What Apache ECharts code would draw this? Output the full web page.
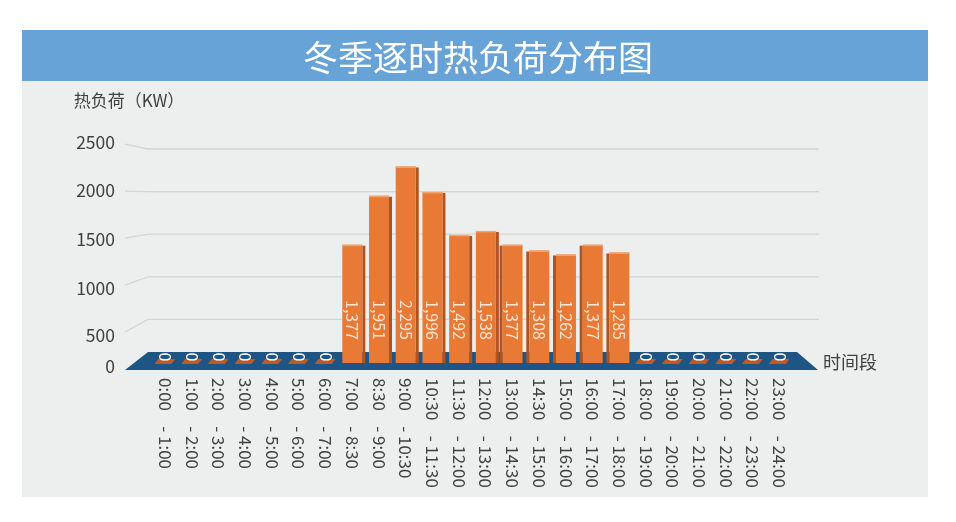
<!DOCTYPE html>
<html>
<head>
<meta charset="utf-8">
<title>冬季逐时热负荷分布图</title>
<script src="https://cdn.jsdelivr.net/npm/echarts@6/dist/echarts.min.js"></script>
<style>
  body { margin: 0; background: #fff; }
  #wrap { position: relative; width: 956px; height: 522px; }
  .panel { position: absolute; left: 22px; top: 30px; width: 906px; height: 467px; background: #edeeee; }
  .head { position: absolute; left: 22px; top: 30px; width: 906px; height: 51px; background: #67a3d7; }
  #ct1 { position: absolute; left: 0; top: 0; width: 956px; height: 522px; }
</style>
</head>
<body>
<div id="wrap">
  <div class="panel"></div>
  <div class="head"></div>
  <div id="ct1"></div>
</div>
<script>
// 时间段
var categories = ['0:00 - 1:00', '1:00 - 2:00', '2:00 - 3:00', '3:00 - 4:00', '4:00 - 5:00', '5:00 - 6:00',
    '6:00 - 7:00', '7:00 - 8:30', '8:30 - 9:00', '9:00 - 10:30', '10:30 - 11:30', '11:30 - 12:00',
    '12:00 - 13:00', '13:00 - 14:30', '14:30 - 15:00', '15:00 - 16:00', '16:00 - 17:00', '17:00 - 18:00',
    '18:00 - 19:00', '19:00 - 20:00', '20:00 - 21:00', '21:00 - 22:00', '22:00 - 23:00', '23:00 - 24:00'];
// 热负荷 (KW)
var loads = [0, 0, 0, 0, 0, 0, 0, 1377, 1951, 2295, 1996, 1492, 1538, 1377, 1308, 1262, 1377, 1285, 0, 0, 0, 0, 0, 0];
var yTicks = [0, 500, 1000, 1500, 2000, 2500];

// 立体效果用的样式
var labelShift = [4, 16, 12, 5, -1.5, -7];
var font = "'Noto Sans CJK SC', 'Noto Sans', sans-serif";

function fmt(v) {
    return String(v).replace(/\B(?=(\d{3})+(?!\d))/g, ',');
}

window.onload = function () {
    var myChart = echarts.init(document.getElementById('ct1'));

    var rich = {};
    labelShift.forEach(function (d, i) {
        rich['t' + i] = {
            fontSize: 17.5, color: '#404040', fontFamily: font,
            padding: d > 0 ? [2 * d, 0, 0, 0] : [0, 0, -2 * d, 0]
        };
    });

    var barData = loads.map(function (v, i) { return [i, v]; });

    // 背景墙网格线 + 底座
    function renderBack(params, api) {
        var cs = params.coordSys;
        var x0 = cs.x, x1 = cs.x + cs.width;
        var y0 = api.coord([0, 0])[1];
        var children = [];
        yTicks.forEach(function (t) {
            if (t === 0) return;
            var yb = api.coord([0, t])[1];
            var yf = y0 + 17 - (y0 - yb) * 1.103;
            children.push({
                type: 'polyline',
                shape: { points: [[x0 - 27, yf], [x0 - 4, yb], [x1 + 26, yb]] },
                style: { stroke: '#d4d5d5', lineWidth: 1.3, fill: null }
            });
        });
        children.push({
            type: 'polygon',
            shape: { points: [[x0 - 4, y0 - 10], [x1 + 4, y0 - 10], [x1 + 25, y0 + 8], [x0 - 27, y0 + 8]] },
            style: { fill: '#1f5584' }
        });
        return { type: 'group', children: children };
    }

    function renderBar(params, api) {
        var idx = api.value(0);
        var v = api.value(1);
        var top = api.coord([idx, v]);
        var base = api.coord([idx, 0]);
        var cx = top[0];
        var yb = base[1] + 1;
        if (v === 0) {
            return {
                type: 'group',
                children: [{
                    type: 'polygon',
                    shape: { points: [[cx - 7, yb - 4], [cx + 10, yb - 4], [cx + 6, yb + 1], [cx - 11, yb + 1]] },
                    style: { fill: '#c05a22' }
                }, {
                    type: 'text',
                    x: cx, y: yb - 6,
                    rotation: -Math.PI / 2,
                    style: { text: '0', fill: '#ffffff', font: '16px ' + font, align: 'center', verticalAlign: 'middle' }
                }]
            };
        }
        var right = idx <= 12;
        var sx = right ? cx + 10 : cx - 13;
        return {
            type: 'group',
            children: [{
                type: 'rect',
                shape: { x: sx, y: top[1] + 1, width: 3, height: yb - top[1] - 1 },
                style: { fill: '#b0531f' }
            }, {
                type: 'rect',
                shape: { x: cx - 10, y: top[1], width: 20, height: yb - top[1] },
                style: { fill: '#e87a35' }
            }, {
                type: 'rect',
                shape: { x: cx - 10, y: top[1], width: 20, height: 1.5 },
                style: { fill: '#f3a36e' }
            }, {
                type: 'text',
                x: cx, y: yb - 23,
                rotation: -Math.PI / 2,
                style: { text: fmt(v), fill: '#fbe5d6', font: '16px ' + font, align: 'right', verticalAlign: 'middle' }
            }]
        };
    }

    var option = {
        textStyle: { fontFamily: font },
        title: {
            text: '冬季逐时热负荷分布图',
            left: 'center',
            top: 35,
            textStyle: { color: '#ffffff', fontSize: 35, fontWeight: 'normal', fontFamily: font }
        },
        grid: { left: 152, right: 163, top: 149, bottom: 160 },
        xAxis: {
            type: 'category',
            data: categories,
            name: '时间段',
            nameLocation: 'end',
            nameGap: 30,
            nameTextStyle: { fontSize: 18, color: '#404040', padding: [6, 0, 0, 0] },
            axisLine: { show: false },
            axisTick: { show: false },
            axisLabel: {
                rotate: -90,
                interval: 0,
                margin: 16,
                fontSize: 17,
                color: '#404040',
                formatter: function (s) { return s.replace(' - ', '    - '); }
            }
        },
        yAxis: {
            type: 'value',
            min: 0,
            max: 2500,
            interval: 500,
            name: '热负荷（KW）',
            nameLocation: 'end',
            nameGap: 40,
            nameTextStyle: { fontSize: 17, color: '#404040', align: 'center', padding: [0, 46, 0, 0] },
            axisLine: { show: false },
            axisTick: { show: false },
            splitLine: { show: false },
            axisLabel: {
                margin: 37,
                formatter: function (v, i) { return '{t' + i + '|' + v + '}'; },
                rich: rich
            }
        },
        series: [{
            name: 'back',
            type: 'custom',
            z: 1,
            clip: false,
            silent: true,
            renderItem: renderBack,
            data: [[0, 0]]
        }, {
            name: '热负荷',
            type: 'custom',
            z: 3,
            clip: false,
            renderItem: renderBar,
            encode: { x: 0, y: 1 },
            data: barData
        }]
    };

    myChart.setOption(option);
};
</script>
</body>
</html>
